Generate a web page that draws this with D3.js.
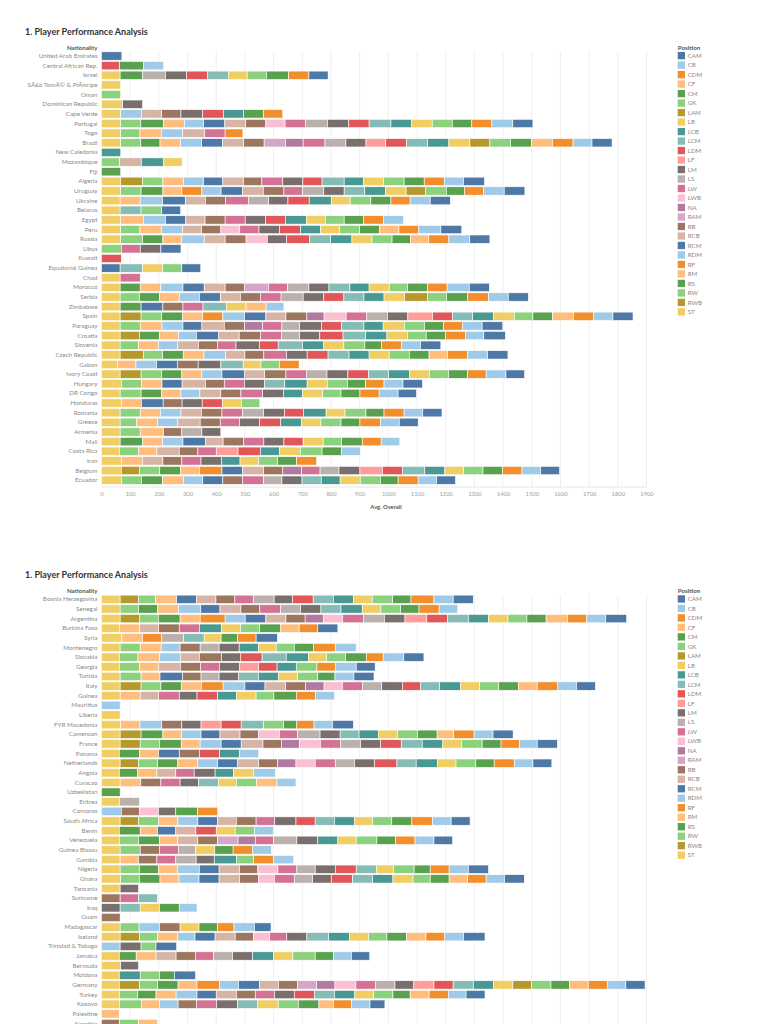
<!DOCTYPE html>
<html>
<head>
<meta charset="utf-8">
<script src="https://cdn.jsdelivr.net/npm/d3@7"></script>
<style>
body { margin:0; background:#fff }
svg text { font-family: Lato, "Open Sans", sans-serif }
</style>
</head>
<body>
<script>
// positions in legend order, colours cycle through tableau 20
var positions = ['CAM','CB','CDM','CF','CM','GK','LAM','LB','LCB','LCM','LDM','LF','LM','LS','LW','LWB','NA','RAM','RB','RCB',
                 'RCM','RDM','RF','RM','RS','RW','RWB','ST']
var palette = ['#4e79a7','#a0cbe8','#f28e2b','#ffbe7d','#59a14f','#8cd17d','#b6992d','#f1ce63','#499894','#86bcb6',
               '#e15759','#ff9d9a','#79706e','#bab0ac','#d37295','#fabfd2','#b07aa1','#d4a6c8','#9d7660','#d7b5a6']
var xTicks = d3.range(0, 2000, 100)

// avg overall per nationality and position
var topRows = [
 ["United Arab Emirates", {CAM:71}],
 ["Central African Rep.", {LDM:63,CM:84,CB:70}],
 ["Israel", {ST:65,RS:78,LS:80,LM:74,LDM:72,LCM:73,LB:66,GK:67,CM:77,CDM:71,CAM:67}],
 ["SÃ£o TomÃ© & PrÃncipe", {ST:67}],
 ["Oman", {GK:67}],
 ["Dominican Republic", {ST:74,LM:69}],
 ["Cape Verde", {ST:67,RDM:72,RCB:71,RB:67,LM:76,LDM:72,LCB:70,CM:70,CDM:67}],
 ["Portugal", {ST:67,RW:70,RS:79,RM:73,RDM:67,RCM:74,RCB:73,RB:70,LWB:67,LW:72,LS:76,LM:74,LDM:71,LCM:76,LCB:72,LB:72,GK:70,CM:68,CDM:70,CB:73,CAM:70}],
 ["Togo", {ST:67,RW:67,RM:76,RDM:73,RCB:77,LW:71,CDM:62}],
 ["Brazil", {ST:67,RW:70,RS:67,RM:72,RDM:73,RCM:73,RCB:74,RB:71,RAM:74,NA:62,LW:76,LS:73,LM:70,LF:69,LDM:73,LCM:73,LCB:74,LB:73,LAM:70,GK:72,CM:73,CF:73,CDM:72,CB:66,CAM:70}],
 ["New Caledonia", {LCB:67}],
 ["Mozambique", {RW:63,RCB:76,LCB:78,LB:64}],
 ["Fiji", {CM:67}],
 ["Algeria", {ST:67,RWB:76,RW:71,RM:72,RDM:70,RCM:67,RCB:72,RB:64,LW:73,LM:70,LDM:67,LCM:77,LCB:67,LB:70,GK:72,CM:70,CDM:70,CB:67,CAM:73}],
 ["Uruguay", {ST:67,RW:71,RS:76,RM:66,RF:70,RDM:67,RCM:74,RCB:73,RB:72,LW:65,LS:74,LM:71,LCM:72,LCB:72,LB:72,LAM:67,GK:73,CM:63,CDM:67,CB:72,CAM:72}],
 ["Ukraine", {ST:65,RM:70,RDM:78,RCM:79,RCB:70,RB:70,LW:81,LS:70,LM:67,LDM:74,LCB:77,LB:66,GK:72,CM:70,CDM:67,CB:70,CAM:70}],
 ["Belarus", {ST:65,LCM:73,GK:72,CAM:66}],
 ["Egypt", {ST:67,RM:79,RDM:77,RCM:71,RCB:67,RB:70,LW:70,LM:71,LDM:69,LCB:73,LB:66,GK:66,CM:67,CDM:70,CB:70}],
 ["Peru", {ST:67,RW:67,RM:76,RDM:73,RCB:66,RB:67,LWB:66,LW:67,LM:72,LDM:73,LCB:70,LB:66,GK:70,CM:70,CF:67,CDM:69,CB:77,CAM:73}],
 ["Russia", {ST:67,RW:76,RS:71,RM:66,RDM:78,RCB:73,RB:73,LWB:74,LM:67,LDM:81,LCM:73,LCB:74,LB:70,GK:70,CM:64,CF:64,CDM:70,CB:73,CAM:70}],
 ["Libya", {RW:69,LW:66,LM:72,CAM:70}],
 ["Kuwait", {LDM:69}],
 ["Equatorial Guinea", {RCM:65,LCM:78,LB:70,GK:67,CAM:66}],
 ["Chad", {ST:65,LW:70}],
 ["Morocco", {ST:65,RS:70,RM:72,RDM:77,RCM:74,RCB:73,RB:67,RAM:84,LW:67,LS:74,LM:70,LCM:73,LCB:67,LB:70,GK:64,CM:70,CDM:68,CB:77,CAM:70}],
 ["Serbia", {ST:65,RW:67,RS:70,RM:69,RDM:70,RCM:73,RCB:70,RB:70,LW:72,LS:77,LM:72,LDM:70,LCM:70,LCB:70,LB:72,LAM:79,GK:67,CM:74,CDM:73,CB:68,CAM:70}],
 ["Zimbabwe", {ST:65,RS:73,RCM:76,RB:70,LW:70,LCM:81,LB:69,CF:70,CB:62}],
 ["Spain", {ST:65,RWB:73,RW:72,RS:73,RM:70,RF:70,RDM:76,RCM:74,RCB:70,RB:73,NA:60,LWB:77,LW:72,LS:72,LM:71,LF:86,LDM:70,LCM:70,LCB:73,LB:72,GK:65,CM:68,CF:73,CDM:70,CB:68,CAM:70}],
 ["Paraguay", {ST:65,RW:70,RM:76,RDM:73,RCM:66,RCB:78,RB:71,NA:63,LW:67,LS:62,LM:76,LDM:70,LCM:78,LCB:67,LB:74,GK:70,CM:67,CDM:66,CB:68,CAM:72}],
 ["Croatia", {ST:65,RWB:67,RS:70,RM:67,RDM:62,RCM:78,RCB:71,RB:74,LW:73,LS:64,LM:70,LDM:81,LCM:79,LCB:74,LB:71,GK:66,CM:67,CDM:70,CB:64,CAM:75}],
 ["Slovenia", {ST:65,RW:64,RM:70,RDM:67,RCB:72,RB:66,LW:65,LM:81,LDM:66,LCM:85,LCB:74,LB:70,GK:73,CM:58,CDM:70,CB:66,CAM:71}],
 ["Czech Republic", {ST:65,RWB:81,RW:67,RS:72,RM:72,RDM:76,RCB:67,RB:66,LW:79,LM:72,LDM:73,LCM:73,LCB:70,LB:70,GK:70,CM:69,CF:64,CDM:70,CB:70,CAM:71}],
 ["Gabon", {ST:56,RM:64,RDM:72,RCM:73,RB:72,LM:79,LCM:78,LB:62,GK:64,CDM:69}],
 ["Ivory Coast", {ST:65,RWB:73,RW:72,RS:70,RM:70,RDM:70,RCM:79,RCB:70,RB:74,LW:71,LS:72,LM:73,LDM:72,LCM:70,LCB:73,LB:69,GK:67,CM:66,CDM:65,CB:69,CAM:65}],
 ["Hungary", {ST:69,RW:70,RM:72,RCM:70,RCB:81,RB:66,LW:70,LM:71,LCM:70,LCB:78,LB:70,GK:70,CM:64,CDM:64,CB:66,CAM:68}],
 ["DR Congo", {ST:65,RW:73,RS:72,RM:67,RDM:66,RCB:73,RB:70,LW:76,LM:72,LCB:67,LB:70,GK:64,CM:66,CDM:67,CB:66,CAM:64}],
 ["Honduras", {ST:69,RM:70,RCM:76,RB:66,LM:70,LDM:70,LB:67,GK:64}],
 ["Romania", {ST:65,RW:70,RM:70,RDM:72,RCB:71,RB:72,LW:72,LS:73,LM:73,LDM:66,LCB:79,LB:66,GK:73,CM:63,CDM:70,CB:65,CAM:67}],
 ["Greece", {ST:65,RW:58,RM:73,RDM:70,RCB:78,RB:70,LW:67,LM:70,LDM:74,LCB:73,LB:67,GK:70,CM:66,CDM:72,CB:65,CAM:66}],
 ["Armenia", {ST:65,RW:70,RM:81,RB:64,LS:70,LM:66}],
 ["Mali", {ST:65,RS:78,RM:70,RDM:71,RCM:78,RCB:62,RB:72,LW:70,LM:70,LDM:67,LB:70,GK:64,CM:72,CDM:66,CB:65}],
 ["Costa Rica", {ST:62,RW:67,RM:64,RCB:78,RB:65,LW:64,LF:76,LDM:78,LCB:67,LB:72,GK:76,CM:67,CB:66}],
 ["Iran", {ST:69,RM:74,RCB:71,RB:66,LW:67,LM:72,LCB:64,LB:64,GK:67,CM:66,CDM:70}],
 ["Belgium", {ST:69,RWB:63,RW:71,RS:72,RM:66,RF:79,RCM:72,RCB:73,RB:67,NA:66,LW:64,LS:66,LM:73,LF:78,LDM:70,LCM:78,LCB:70,LB:66,GK:67,CM:68,CDM:68,CB:65,CAM:66}],
 ["Ecuador", {ST:69,RW:70,RS:74,RM:73,RDM:67,RCM:70,RB:69,LW:73,LS:64,LM:70,LCM:67,LCB:66,LB:70,GK:70,CM:62,CDM:70,CB:64,CAM:66}]
]

var bottomRows = [
 ["Bosnia Herzegovina", {ST:65,RWB:64,RW:60,RM:73,RCM:70,RCB:67,RB:66,LW:64,LS:73,LM:64,LDM:72,LCM:70,LCB:70,LB:66,GK:71,CM:64,CDM:80,CB:67,CAM:70}],
 ["Senegal", {ST:65,RW:64,RS:67,RM:72,RDM:78,RCM:67,RCB:73,RB:66,LW:72,LS:70,LM:71,LCM:70,LCB:74,LB:65,GK:69,CM:64,CDM:70,CB:65}],
 ["Argentina", {ST:65,RWB:67,RW:66,RS:76,RM:70,RF:87,RDM:70,RCM:72,RCB:70,RB:67,NA:64,LWB:67,LW:72,LS:73,LM:72,LF:76,LDM:73,LCM:72,LCB:70,LB:68,GK:66,CM:67,CF:74,CDM:68,CB:66,CAM:73}],
 ["Burkina Faso", {ST:62,RM:71,RCB:66,RB:72,LW:70,LCB:77,LB:66,GK:67,CM:74,CF:64,CDM:65,CAM:70}],
 ["Syria", {ST:71,RM:72,RF:67,LS:76,LCM:72,LB:59,CM:58,CDM:64,CAM:74}],
 ["Montenegro", {ST:65,RW:70,RM:73,RDM:66,RB:70,LS:66,LM:70,LCB:67,LB:62,GK:63,CM:67,CDM:76,CB:73}],
 ["Slovakia", {ST:62,RW:65,RM:76,RDM:72,RCB:66,RB:77,LM:66,LDM:76,LCM:84,LCB:77,LB:64,GK:66,CM:72,CDM:59,CB:72,CAM:70}],
 ["Georgia", {ST:62,RW:70,RM:67,RCB:76,RB:70,LW:66,LM:71,LF:66,LDM:64,LCB:67,GK:72,CDM:64,CB:73,CAM:66}],
 ["Tunisia", {ST:65,RW:73,RM:66,RCM:79,RB:64,LS:63,LM:67,LCM:70,LCB:70,LB:67,GK:70,CM:60,CB:66,CAM:70}],
 ["Italy", {ST:65,RWB:73,RW:69,RS:71,RM:70,RF:76,RDM:76,RCM:70,RCB:72,RB:70,NA:64,LWB:64,LW:70,LS:67,LM:72,LDM:64,LCM:66,LCB:73,LB:66,GK:67,CM:68,CF:66,CDM:72,CB:65,CAM:66}],
 ["Guinea", {ST:65,RM:70,RCB:64,LW:72,LM:62,LDM:72,LCB:65,LB:69,GK:62,CM:78,CDM:67,CB:66}],
 ["Mauritius", {CB:65}],
 ["Liberia", {ST:65}],
 ["FYR Macedonia", {ST:67,RM:67,RDM:76,RB:70,LM:67,LF:70,LDM:70,LCM:78,GK:70,CM:46,CDM:60,CB:64,CAM:73}],
 ["Cameroon", {ST:65,RWB:73,RS:76,RM:66,RDM:67,RCM:66,RCB:70,RB:64,LWB:73,LW:64,LS:78,LM:70,LCM:66,LCB:67,LB:67,GK:70,CM:68,CF:58,CDM:71,CB:66,CAM:70}],
 ["France", {ST:65,RWB:70,RW:67,RS:76,RM:66,RDM:73,RCM:70,RCB:76,RB:64,NA:63,LWB:73,LW:70,LS:70,LM:70,LDM:72,LCM:73,LCB:72,LB:65,GK:72,CM:66,CDM:64,CB:62,CAM:70}],
 ["Panama", {ST:62,RS:71,RM:66,RCM:72,RB:70,LDM:70,LCB:71,CB:66}],
 ["Netherlands", {ST:65,RWB:64,RW:67,RS:70,RM:70,RDM:69,RCM:70,RCB:73,RB:66,NA:64,LWB:67,LW:70,LS:67,LM:70,LDM:78,LCM:67,LCB:74,LB:65,GK:69,CM:64,CDM:70,CB:65,CAM:66}],
 ["Angola", {ST:62,RS:64,RM:67,RCB:66,LW:64,LM:73,LCB:64,LB:70,CB:76}],
 ["Curacao", {ST:65,RM:72,RB:70,LW:67,LM:64,LCM:70,LB:62,GK:70,CF:72,CB:66}],
 ["Uzbekistan", {CM:65}],
 ["Eritrea", {ST:62,LS:70}],
 ["Comoros", {RDM:69,RB:64,LWB:66,LM:60,CM:76,CDM:70}],
 ["South Africa", {ST:65,RWB:64,RW:70,RM:67,RDM:70,RCM:69,RCB:65,RB:69,LW:65,LM:74,LDM:67,LCM:67,LCB:70,LB:63,GK:67,CM:70,CDM:72,CB:65,CAM:66}],
 ["Benin", {ST:62,RS:73,RM:60,RCM:64,RCB:70,LDM:71,LB:66,GK:67,CB:66}],
 ["Venezuela", {ST:62,RW:67,RS:73,RM:64,RCB:70,RB:69,RAM:71,NA:60,LW:64,LS:81,LM:73,LCB:70,LB:64,GK:72,CM:66,CDM:67,CB:66,CAM:65}],
 ["Guinea Bissau", {ST:65,RW:70,RB:67,LW:66,LS:60,LB:67,CM:64,CDM:67,CB:66}],
 ["Gambia", {ST:65,RM:64,RB:64,LW:66,LS:71,LM:63,LCB:77,GK:60,CDM:70,CB:70}],
 ["Nigeria", {ST:65,RW:67,RS:66,RM:67,RDM:76,RCM:69,RCB:71,RB:64,LWB:70,LW:66,LS:64,LM:70,LDM:73,LCM:70,LB:60,GK:72,CM:56,CDM:66,CB:67,CAM:70}],
 ["Ghana", {ST:67,RW:65,RS:72,RM:66,RDM:70,RCM:70,RCB:71,RB:66,LWB:56,LW:69,LS:64,LM:65,LDM:74,LCM:70,LCB:71,LB:70,GK:60,CM:66,CF:64,CDM:65,CB:64,CAM:69}],
 ["Tanzania", {ST:65,LM:64}],
 ["Suriname", {RB:65,LW:64,LCM:66}],
 ["Iraq", {LM:65,LCM:70,LB:67,CM:69,CB:62}],
 ["Guam", {RB:65}],
 ["Madagascar", {ST:65,RW:66,RDM:71,RB:72,LB:66,CM:64,CDM:58,CB:71,CAM:58}],
 ["Iceland", {ST:65,RWB:67,RW:63,RM:71,RDM:60,RCM:70,RCB:70,RB:64,LWB:56,LW:60,LM:70,LCM:76,LCB:73,LB:66,GK:64,CM:69,CF:67,CDM:66,CB:65,CAM:75}],
 ["Trinidad & Tobago", {RDM:65,LM:73,GK:52,CAM:72}],
 ["Jamaica", {ST:62,RS:59,RM:69,RCB:70,RB:67,LW:64,LS:66,LM:70,LCB:73,LB:67,GK:78,CM:64,CB:62,CAM:64}],
 ["Bermuda", {ST:67,LM:62}],
 ["Moldova", {ST:62,LCB:73,GK:67,CM:52,CAM:74}],
 ["Germany", {ST:62,RWB:71,RW:63,RS:71,RM:66,RF:78,RDM:67,RCM:73,RCB:66,RB:67,RAM:66,NA:64,LWB:73,LW:69,LS:67,LM:66,LF:70,LDM:67,LCM:70,LCB:70,LB:68,LAM:66,GK:67,CM:64,CF:66,CDM:68,CB:63,CAM:67}],
 ["Turkey", {ST:62,RW:64,RS:64,RM:70,RDM:73,RCM:67,RCB:70,RB:66,LW:67,LM:69,LDM:70,LCM:70,LCB:71,LB:66,GK:67,CM:60,CF:66,CDM:67,CB:62,CAM:66}],
 ["Kosovo", {ST:62,RW:77,RM:64,RDM:64,RB:64,LW:70,LM:74,LCM:70,LB:71,GK:70,CM:72,CF:50,CDM:64,CB:64,CAM:52}],
 ["Palestine", {CF:62}],
 ["Namibia", {RB:62,GK:67,CF:66}]
]

var W = 768, H = 1024
var rowH = 9.64
var x = d3.scaleLinear().domain([0, 1900]).range([101.5, 646.5])
var color = d3.scaleOrdinal().domain(positions).range(positions.map((p,i)=> palette[i % palette.length]))
var stackKeys = positions.slice().reverse()   // tableau stacks ST first

var svg = d3.select('body').append('svg')
    .attr('width', W)
    .attr('height', H)

function panel(rows, top, withAxis)
{
    var g = svg.append('g')
    var y0 = top + 51.2
    var y = d3.scaleBand()
        .domain(rows.map(d=> d[0]))
        .range([y0, y0 + rows.length*rowH])
        .paddingInner(0.13)
        .paddingOuter(0.065)
    var gridBottom = withAxis ? y.range()[1] + 1.5 : H

    g.append('text')
        .attr('x', 25).attr('y', top + 34.5)
        .attr('font-size', 9).attr('font-weight', 'bold').attr('fill', '#333')
        .text('1. Player Performance Analysis')

    g.append('text')
        .attr('x', 97.5).attr('y', top + 49.6)
        .attr('text-anchor', 'end')
        .attr('font-size', 6.2).attr('font-weight', 'bold').attr('fill', '#555')
        .text('Nationality')

    g.append('g').selectAll('line')
        .data(xTicks)
        .join('line')
            .attr('x1', d=> x(d)).attr('x2', d=> x(d))
            .attr('y1', y0).attr('y2', gridBottom)
            .attr('stroke', '#efefef').attr('stroke-width', 1)

    var series = d3.stack().keys(stackKeys).value((d, k)=> d[1][k] || 0)(rows)
    g.append('g').selectAll('g')
        .data(series)
        .join('g')
            .attr('fill', s=> color(s.key))
        .selectAll('rect')
        .data(s=> s.filter(p=> p[1] > p[0]))
        .join('rect')
            .attr('x', p=> x(p[0]))
            .attr('width', p=> x(p[1]) - x(p[0]))
            .attr('y', p=> y(p.data[0]))
            .attr('height', y.bandwidth())
            .attr('stroke', '#fff')
            .attr('stroke-width', 0.6)

    var yAxis = g.append('g')
        .attr('transform', 'translate(101.5,0)')
        .call(d3.axisLeft(y).tickSize(0).tickPadding(4))
    yAxis.select('.domain').remove()
    yAxis.selectAll('text')
        .attr('font-size', 6.3).attr('fill', '#8a8a8a')
        .style('font-family', 'Lato, "Open Sans", sans-serif')

    if (withAxis) {
        var xAxis = g.append('g')
            .attr('transform', 'translate(0,' + gridBottom + ')')
            .call(d3.axisBottom(x).tickValues(xTicks).tickFormat(d3.format('d')).tickSize(0).tickPadding(5))
        xAxis.select('.domain').attr('stroke', '#e6e6e6')
        xAxis.selectAll('text')
            .attr('font-size', 5.8).attr('fill', '#a0a0a0')
            .style('font-family', 'Lato, "Open Sans", sans-serif')

        g.append('text')
            .attr('x', 386).attr('y', top + 509)
            .attr('text-anchor', 'middle')
            .attr('font-size', 5.8).attr('font-weight', 'bold').attr('fill', '#555')
            .text('Avg. Overall')
    }

    // legend
    var lg = g.append('g').attr('transform', 'translate(677.7,' + (top + 52) + ')')
    lg.append('text')
        .attr('x', 0).attr('y', -2.5)
        .attr('font-size', 6.2).attr('font-weight', 'bold').attr('fill', '#555')
        .text('Position')
    var item = lg.selectAll('g.item')
        .data(positions)
        .join('g')
            .attr('class', 'item')
            .attr('transform', (d, i)=> 'translate(0,' + (i*9.49) + ')')
    item.append('rect')
        .attr('width', 7.3).attr('height', 7.3)
        .attr('fill', d=> color(d))
    item.append('text')
        .attr('x', 10).attr('y', 3.65).attr('dy', '0.35em')
        .attr('font-size', 6.2).attr('fill', '#888')
        .text(d=> d)
}

panel(topRows, 0, true)
panel(bottomRows, 543.3, false)
</script>
</body>
</html>
